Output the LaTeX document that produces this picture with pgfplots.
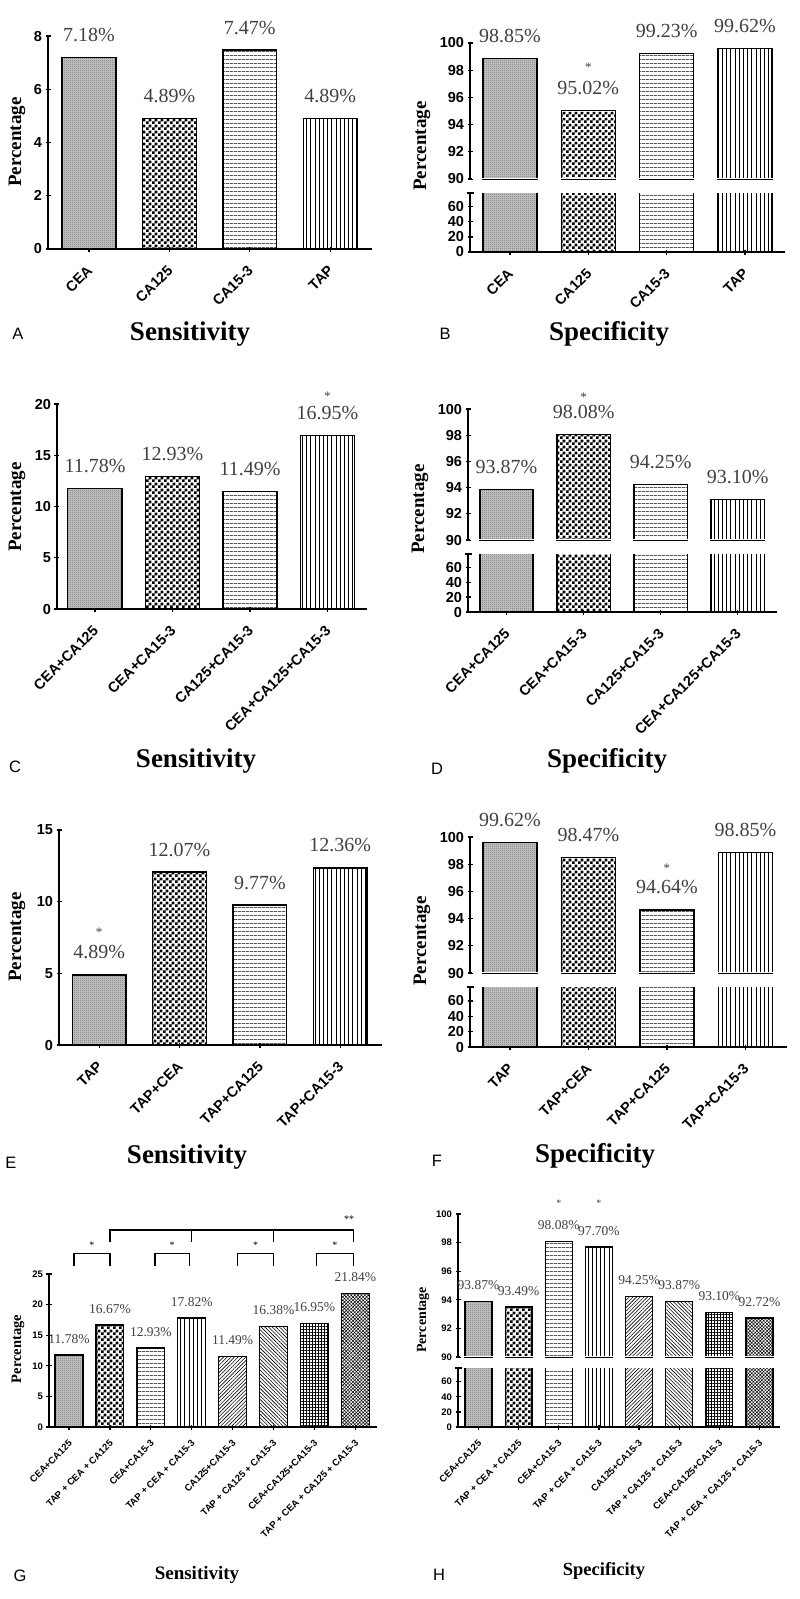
\documentclass[border=0pt]{standalone}
\usepackage{fontspec}
\setmainfont{Liberation Serif}
\setsansfont{Liberation Sans}
\usepackage{pgfplots}
\pgfplotsset{compat=1.18}
\usetikzlibrary{patterns,patterns.meta}

% checkerboard, and a very fine one that reads as grey
\pgfdeclarepatternformonly{chk}{\pgfqpoint{0pt}{0pt}}{\pgfqpoint{5.6pt}{5.6pt}}{\pgfqpoint{5.6pt}{5.6pt}}{%
  \pgfpathrectangle{\pgfpointorigin}{\pgfqpoint{2.8pt}{2.8pt}}%
  \pgfpathrectangle{\pgfqpoint{2.8pt}{2.8pt}}{\pgfqpoint{2.8pt}{2.8pt}}%
  \pgfusepath{fill}}
\pgfdeclarepatternformonly{finechk}{\pgfqpoint{0pt}{0pt}}{\pgfqpoint{2pt}{2pt}}{\pgfqpoint{2pt}{2pt}}{%
  \pgfpathrectangle{\pgfpointorigin}{\pgfqpoint{1pt}{1pt}}%
  \pgfpathrectangle{\pgfqpoint{1pt}{1pt}}{\pgfqpoint{1pt}{1pt}}%
  \pgfusepath{fill}}

\newcommand{\pct}{\pgfmathprintnumber[fixed,fixed zerofill,precision=2]{\pgfplotspointmeta}\%}

\pgfplotsset{
  panel/.style={scale only axis, anchor=south west,
    tick style={line width=1.3pt,black},
    tick align=outside, major tick length=5pt,
    /pgf/number format/assume math mode=true, clip mode=individual,
    axis x line=bottom, axis y line=left,
    axis line style={line width=1.3pt,-},
    every outer x axis line/.append style={-}, every outer y axis line/.append style={-},
    x axis line style={-}, y axis line style={-}},
  big/.style={tick label style={font=\fontsize{14.5}{15}\selectfont\sffamily\bfseries},
    xticklabel shift=8pt,
    x tick label style={xshift=-3pt, rotate=45, anchor=north east},
    every node near coord/.append style={font=\fontsize{20}{20}\selectfont, text=black!75, anchor=south, inner sep=0pt, yshift=15pt}},
  small/.style={tick label style={font=\fontsize{9.5}{10}\selectfont\sffamily\bfseries},
    xticklabel shift=5pt,
    x tick label style={xshift=-1pt, rotate=45, anchor=north east},
    every node near coord/.append style={font=\fontsize{13.5}{14}\selectfont, text=black!75, anchor=south, inner sep=0pt, yshift=11pt}},
  labeled/.style={nodes near coords=\pct},
  upper/.style={axis x line=none, nodes near coords=\pct, ymin=90, ymax=100, ytick={90,92,...,100}},
  lower/.style={ymin=0, ymax=78, ytick={0,20,40,60}},
  mybar/.style={ybar, bar shift=0pt, bar width=#1, draw=black, line width=1.3pt},
  pA/.style={fill=black!22, postaction={pattern=finechk, pattern color=black!55}},
  pB/.style={pattern=chk, pattern color=black},
  pC/.style={pattern={Lines[angle=0,distance=4pt,line width=0.7pt]}},
  pD/.style={pattern={Lines[angle=90,distance=4.2pt,line width=0.7pt]}},
  pE/.style={pattern={Lines[angle=45,distance=2.6pt,line width=0.6pt]}},
  pF/.style={pattern={Lines[angle=-45,distance=2.6pt,line width=0.6pt]}},
  pG/.style={pattern={Hatch[angle=0,distance=3pt,line width=0.5pt]}},
  pH/.style={pattern={Hatch[angle=45,distance=2.4pt,line width=0.5pt]}},
}
\tikzset{
  ttl/.style={font=\fontsize{27}{27}\selectfont\bfseries},
  lett/.style={font=\fontsize{16.5}{17}\selectfont\sffamily},
  ylab/.style={rotate=90, font=\fontsize{19}{19}\selectfont\bfseries},
  star/.style={anchor=base, font=\fontsize{13}{13}\selectfont, text=black!75},
  brk/.style={line width=1.3pt},
}
% hides the bottom edge of the bars at the lower limit of an upper (90-100) axis
\newcommand{\hidebase}{\fill[white] ([xshift=1.5pt]rel axis cs:0,0) rectangle ([yshift=1pt]rel axis cs:1,0);}
% small cap at the top of a lower (0-78) axis
\newcommand{\topcap}{\draw[brk] ([xshift=-3pt]rel axis cs:0,1) -- ([xshift=4pt]rel axis cs:0,1);}

\begin{document}
\begin{tikzpicture}
\useasboundingbox (0,0) rectangle (800pt,-1599pt);

% ---------- A ----------
\begin{axis}[panel, big, labeled, at={(48pt,-249pt)}, width=324pt, height=213pt,
  xmin=-0.51, xmax=3.52, ymin=0, ymax=8, ytick={0,2,...,8},
  xtick={0,...,3}, xticklabels={CEA,CA125,CA15-3,TAP}]
\addplot[mybar=0.67, pA] coordinates {(0,7.18)};
\addplot[mybar=0.67, pB] coordinates {(1,4.89)};
\addplot[mybar=0.67, pC] coordinates {(2,7.47)};
\addplot[mybar=0.67, pD] coordinates {(3,4.89)};
\end{axis}

% ---------- B ----------
\begin{axis}[panel, big, upper, at={(470pt,-179pt)}, width=315pt, height=136pt,
  xmin=-0.51, xmax=3.51]
\addplot[mybar=0.69, pA] coordinates {(0,98.85)};
\addplot[mybar=0.69, pB] coordinates {(1,95.02)};
\addplot[mybar=0.69, pC] coordinates {(2,99.23)};
\addplot[mybar=0.69, pD] coordinates {(3,99.62)};
\hidebase
\coordinate (sB) at (axis cs:1,95.02);
\end{axis}
\begin{axis}[panel, big, lower, at={(470pt,-252pt)}, width=315pt, height=59pt,
  xmin=-0.51, xmax=3.51, xtick={0,...,3}, xticklabels={CEA,CA125,CA15-3,TAP}]
\addplot[mybar=0.69, pA] coordinates {(0,98.85)};
\addplot[mybar=0.69, pB] coordinates {(1,95.02)};
\addplot[mybar=0.69, pC] coordinates {(2,99.23)};
\addplot[mybar=0.69, pD] coordinates {(3,99.62)};
\topcap
\end{axis}
\node[star, yshift=39pt] at (sB) {*};

% ---------- C ----------
\begin{axis}[panel, big, labeled, at={(57pt,-609pt)}, width=310pt, height=205pt,
  xmin=-0.49, xmax=3.51, ymin=0, ymax=20, ytick={0,5,...,20},
  xtick={0,...,3}, xticklabels={CEA+CA125,CEA+CA15-3,CA125+CA15-3,CEA+CA125+CA15-3}]
\addplot[mybar=0.70, pA] coordinates {(0,11.78)};
\addplot[mybar=0.70, pB] coordinates {(1,12.93)};
\addplot[mybar=0.70, pC] coordinates {(2,11.49)};
\addplot[mybar=0.70, pD] coordinates {(3,16.95)};
\coordinate (sC) at (axis cs:3,16.95);
\end{axis}
\node[star, yshift=35pt] at (sC) {*};

% ---------- D ----------
\begin{axis}[panel, big, upper, at={(468pt,-540pt)}, width=309pt, height=131pt,
  xmin=-0.5, xmax=3.51]
\addplot[mybar=0.69, pA] coordinates {(0,93.87)};
\addplot[mybar=0.69, pB] coordinates {(1,98.08)};
\addplot[mybar=0.69, pC] coordinates {(2,94.25)};
\addplot[mybar=0.69, pD] coordinates {(3,93.10)};
\hidebase
\coordinate (sD) at (axis cs:1,98.08);
\end{axis}
\begin{axis}[panel, big, lower, at={(468pt,-612pt)}, width=309pt, height=58pt,
  xmin=-0.5, xmax=3.51, xtick={0,...,3},
  xticklabels={CEA+CA125,CEA+CA15-3,CA125+CA15-3,CEA+CA125+CA15-3}]
\addplot[mybar=0.69, pA] coordinates {(0,93.87)};
\addplot[mybar=0.69, pB] coordinates {(1,98.08)};
\addplot[mybar=0.69, pC] coordinates {(2,94.25)};
\addplot[mybar=0.69, pD] coordinates {(3,93.10)};
\topcap
\end{axis}
\node[star, yshift=33pt] at (sD) {*};

% ---------- E ----------
\begin{axis}[panel, big, labeled, at={(59pt,-1045pt)}, width=323pt, height=215pt,
  xmin=-0.5, xmax=3.52, ymin=0, ymax=15, ytick={0,5,...,15},
  xtick={0,...,3}, xticklabels={TAP,TAP+CEA,TAP+CA125,TAP+CA15-3}]
\addplot[mybar=0.67, pA] coordinates {(0,4.89)};
\addplot[mybar=0.67, pB] coordinates {(1,12.07)};
\addplot[mybar=0.67, pC] coordinates {(2,9.77)};
\addplot[mybar=0.67, pD] coordinates {(3,12.36)};
\coordinate (sE) at (axis cs:0,4.89);
\end{axis}
\node[star, yshift=38pt] at (sE) {*};

% ---------- F ----------
\begin{axis}[panel, big, upper, at={(470pt,-973pt)}, width=317pt, height=136pt,
  xmin=-0.51, xmax=3.53]
\addplot[mybar=0.69, pA] coordinates {(0,99.62)};
\addplot[mybar=0.69, pB] coordinates {(1,98.47)};
\addplot[mybar=0.69, pC] coordinates {(2,94.64)};
\addplot[mybar=0.69, pD] coordinates {(3,98.85)};
\hidebase
\coordinate (sF) at (axis cs:2,94.64);
\end{axis}
\begin{axis}[panel, big, lower, at={(470pt,-1047pt)}, width=317pt, height=60pt,
  xmin=-0.51, xmax=3.53, xtick={0,...,3},
  xticklabels={TAP,TAP+CEA,TAP+CA125,TAP+CA15-3}]
\addplot[mybar=0.69, pA] coordinates {(0,99.62)};
\addplot[mybar=0.69, pB] coordinates {(1,98.47)};
\addplot[mybar=0.69, pC] coordinates {(2,94.64)};
\addplot[mybar=0.69, pD] coordinates {(3,98.85)};
\topcap
\end{axis}
\node[star, yshift=37pt] at (sF) {*};

% ---------- G ----------
\begin{axis}[panel, small, labeled, clip=false, at={(49pt,-1427pt)}, width=328pt, height=153pt,
  xmin=-0.49, xmax=7.53, ymin=0, ymax=25, ytick={0,5,...,25}, xtick={0,...,7},
  xticklabels={CEA+CA125,TAP + CEA + CA125,CEA+CA15-3,TAP + CEA + CA15-3,CA125+CA15-3,TAP + CA125 + CA15-3,CEA+CA125+CA15-3,TAP + CEA + CA125 + CA15-3}]
\addplot[mybar=0.68, pA] coordinates {(0,11.78)};
\addplot[mybar=0.68, pB] coordinates {(1,16.67)};
\addplot[mybar=0.68, pC] coordinates {(2,12.93)};
\addplot[mybar=0.68, pD] coordinates {(3,17.82)};
\addplot[mybar=0.68, pE] coordinates {(4,11.49)};
\addplot[mybar=0.68, pF] coordinates {(5,16.38)};
\addplot[mybar=0.68, pG] coordinates {(6,16.95)};
\addplot[mybar=0.68, pH] coordinates {(7,21.84)};
% significance brackets
\draw[line width=1.2pt] (axis cs:0.12,26.3) |- (axis cs:1,28.3) -- (axis cs:1,26.3);
\draw[line width=1.2pt] (axis cs:2.1,26.3) |- (axis cs:2.95,28.3) -- (axis cs:2.95,26.3);
\draw[line width=1.2pt] (axis cs:4.12,26.3) |- (axis cs:5,28.3) -- (axis cs:5,26.3);
\draw[line width=1.2pt] (axis cs:6.05,26.3) |- (axis cs:6.95,28.3) -- (axis cs:6.95,26.3);
\draw[line width=1.2pt] (axis cs:1,30.2) |- (axis cs:6.95,32.2) -- (axis cs:6.95,30.2);
\draw[line width=1.2pt] (axis cs:3,32.2) -- (axis cs:3,30.2);
\draw[line width=1.2pt] (axis cs:5,32.2) -- (axis cs:5,30.2);
\node[font=\fontsize{10}{10}\selectfont] at (axis cs:0.56,29.7) {*};
\node[font=\fontsize{10}{10}\selectfont] at (axis cs:2.52,29.7) {*};
\node[font=\fontsize{10}{10}\selectfont] at (axis cs:4.56,29.7) {*};
\node[font=\fontsize{10}{10}\selectfont] at (axis cs:6.5,29.7) {*};
\node[font=\fontsize{10}{10}\selectfont] at (axis cs:6.85,34.0) {**};
\end{axis}

% ---------- H ----------
\begin{axis}[panel, small, upper, at={(458pt,-1357pt)}, width=322pt, height=143pt,
  xmin=-0.51, xmax=7.51]
\addplot[mybar=0.67, pA] coordinates {(0,93.87)};
\addplot[mybar=0.67, pB] coordinates {(1,93.49)};
\addplot[mybar=0.67, pC] coordinates {(2,98.08)};
\addplot[mybar=0.67, pD] coordinates {(3,97.70)};
\addplot[mybar=0.67, pE] coordinates {(4,94.25)};
\addplot[mybar=0.67, pF] coordinates {(5,93.87)};
\addplot[mybar=0.67, pG] coordinates {(6,93.10)};
\addplot[mybar=0.67, pH] coordinates {(7,92.72)};
\hidebase
\coordinate (h3) at (axis cs:2,100);
\coordinate (h4) at (axis cs:3,100);
\end{axis}
\begin{axis}[panel, small, lower, at={(458pt,-1427pt)}, width=322pt, height=59pt,
  xmin=-0.51, xmax=7.51, xtick={0,...,7},
  xticklabels={CEA+CA125,TAP + CEA + CA125,CEA+CA15-3,TAP + CEA + CA15-3,CA125+CA15-3,TAP + CA125 + CA15-3,CEA+CA125+CA15-3,TAP + CEA + CA125 + CA15-3}]
\addplot[mybar=0.67, pA] coordinates {(0,93.87)};
\addplot[mybar=0.67, pB] coordinates {(1,93.49)};
\addplot[mybar=0.67, pC] coordinates {(2,98.08)};
\addplot[mybar=0.67, pD] coordinates {(3,97.70)};
\addplot[mybar=0.67, pE] coordinates {(4,94.25)};
\addplot[mybar=0.67, pF] coordinates {(5,93.87)};
\addplot[mybar=0.67, pG] coordinates {(6,93.10)};
\addplot[mybar=0.67, pH] coordinates {(7,92.72)};
\topcap
\end{axis}
\node[star, font=\fontsize{10}{10}\selectfont, yshift=8pt] at (h3) {*};
\node[star, font=\fontsize{10}{10}\selectfont, yshift=8pt] at (h4) {*};

% ---------- axis labels, titles, panel letters ----------
\node[ylab] at (17pt,-142pt) {Percentage};
\node[ylab] at (422pt,-146pt) {Percentage};
\node[ylab] at (17pt,-507pt) {Percentage};
\node[ylab] at (420pt,-509pt) {Percentage};
\node[ylab] at (17pt,-937pt) {Percentage};
\node[ylab] at (422pt,-941pt) {Percentage};
\node[ylab, font=\fontsize{14.5}{15}\selectfont\bfseries] at (18pt,-1349pt) {Percentage};
\node[ylab, font=\fontsize{14}{14}\selectfont\bfseries] at (423pt,-1320pt) {Percentage};

\node[ttl] at (190pt,-334pt) {Sensitivity};
\node[ttl] at (609pt,-334pt) {Specificity};
\node[ttl] at (196pt,-761pt) {Sensitivity};
\node[ttl] at (607pt,-761pt) {Specificity};
\node[ttl] at (187pt,-1157pt) {Sensitivity};
\node[ttl] at (595pt,-1156pt) {Specificity};
\node[ttl, font=\fontsize{19}{19}\selectfont\bfseries] at (197pt,-1575pt) {Sensitivity};
\node[ttl, font=\fontsize{18.5}{19}\selectfont\bfseries] at (604pt,-1571pt) {Specificity};

\node[lett] at (18pt,-334pt) {A};
\node[lett] at (445pt,-334pt) {B};
\node[lett] at (15pt,-767pt) {C};
\node[lett] at (437pt,-769pt) {D};
\node[lett] at (11pt,-1163pt) {E};
\node[lett] at (437pt,-1161pt) {F};
\node[lett] at (20pt,-1576pt) {G};
\node[lett] at (439pt,-1575pt) {H};
\end{tikzpicture}
\end{document}
